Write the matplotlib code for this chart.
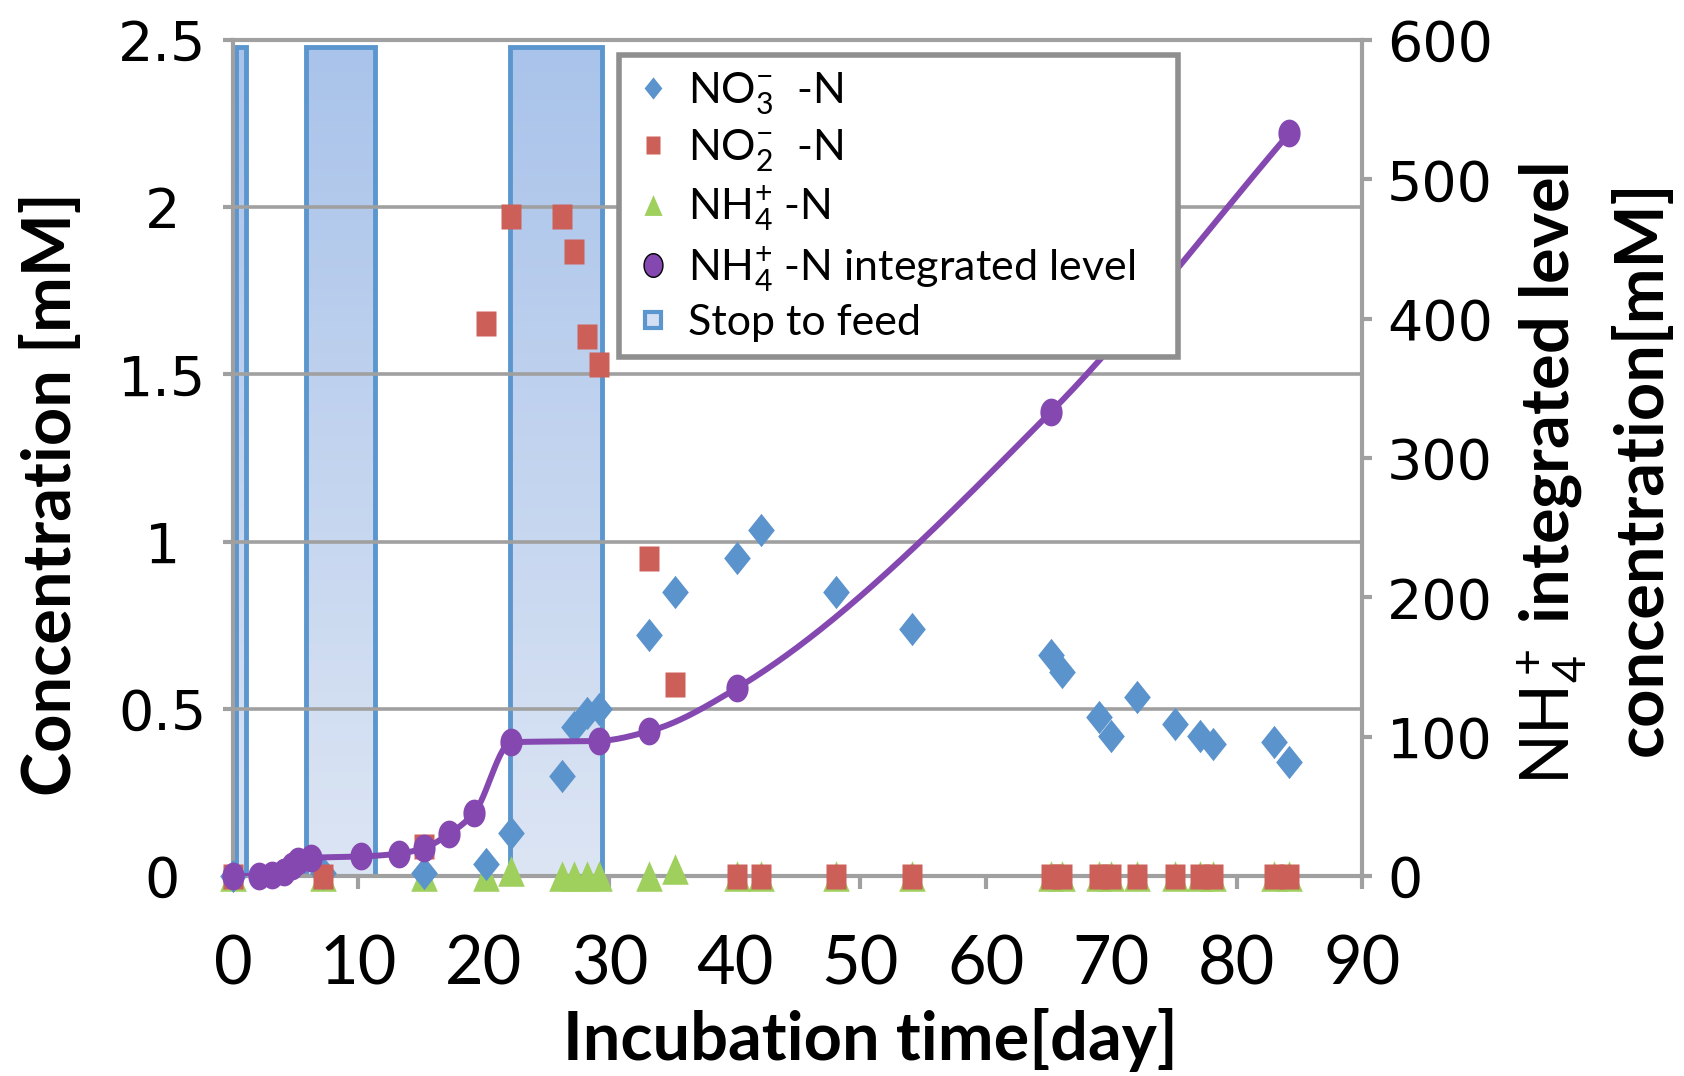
import numpy as np
import matplotlib
matplotlib.use("Agg")
import matplotlib.pyplot as plt
from matplotlib.lines import Line2D
from matplotlib.patches import Rectangle
from matplotlib.colors import LinearSegmentedColormap

plt.rcParams['mathtext.fontset'] = 'custom'
plt.rcParams['mathtext.rm'] = 'Lato'
plt.rcParams['mathtext.it'] = 'Lato:italic'
plt.rcParams['mathtext.bf'] = 'Lato:bold'

# sampling days for the three N species
days = [0, 7.2, 15.2, 20.2, 22.2, 26.2, 27.2, 28.2, 29.2, 33.2, 35.2, 40.2, 42.1,
        48.1, 54.1, 65.2, 66.1, 69.0, 70.0, 72.1, 75.1, 77.1, 78.1, 83.0, 84.2]
no3 = [0.0, 0.01, 0.01, 0.035, 0.13, 0.30, 0.445, 0.488, 0.50, 0.72, 0.85, 0.95, 1.035,
       0.85, 0.74, 0.66, 0.61, 0.475, 0.42, 0.535, 0.455, 0.42, 0.395, 0.40, 0.34]
no2 = [0.0, 0.0, 0.09, 1.655, 1.975, 1.975, 1.87, 1.615, 1.53, 0.95, 0.575, 0.0, 0.0,
       0.0, 0.0, 0.0, 0.0, 0.0, 0.0, 0.0, 0.0, 0.0, 0.0, 0.0, 0.0]
nh4 = [0.0, 0.0, 0.0, 0.0, 0.015, 0.0, 0.0, 0.0, 0.0, 0.0, 0.02, 0.0, 0.0,
       0.0, 0.0, 0.0, 0.0, 0.0, 0.0, 0.0, 0.0, 0.0, 0.0, 0.0, 0.0]

# NH4+ integrated level (right axis)
int_days = [0, 2.1, 3.1, 4.1, 4.7, 5.2, 6.2, 10.2, 13.2, 15.2, 17.2, 19.2, 22.2,
            29.2, 33.2, 40.2, 65.2, 84.2]
int_level = [0, 0, 1, 3, 7, 11, 13, 14, 16, 20, 30, 45, 96, 97, 104, 135, 333, 533]

# stop-to-feed periods (start day, end day)
stop_periods = [(0.2, 1.0), (5.8, 11.3), (22.1, 29.4)]
stop_top = 2.48

blue = '#5B93CC'
red = '#CD5F59'
green = '#9FD05E'
purple = '#8448B0'
gray = '#A0A0A0'


def pchip(x, y, xs):
    # monotone cubic (Fritsch-Carlson), close to Excel's smoothed line look
    x = np.asarray(x, float)
    y = np.asarray(y, float)
    h = np.diff(x)
    d = np.diff(y) / h
    m = np.zeros_like(y)
    m[0] = d[0]
    m[-1] = d[-1]
    for k in range(1, len(x) - 1):
        if d[k - 1] * d[k] <= 0:
            m[k] = 0
        else:
            w1 = 2 * h[k] + h[k - 1]
            w2 = h[k] + 2 * h[k - 1]
            m[k] = (w1 + w2) / (w1 / d[k - 1] + w2 / d[k])
    idx = np.clip(np.searchsorted(x, xs) - 1, 0, len(x) - 2)
    t = (xs - x[idx]) / h[idx]
    h00 = 2 * t**3 - 3 * t**2 + 1
    h10 = t**3 - 2 * t**2 + t
    h01 = -2 * t**3 + 3 * t**2
    h11 = t**3 - t**2
    return h00 * y[idx] + h10 * h[idx] * m[idx] + h01 * y[idx + 1] + h11 * h[idx] * m[idx + 1]


# marker shapes (the original is squeezed horizontally)
th = np.linspace(0, 2 * np.pi, 60)
m_diamond = [(0, 1), (0.8, 0), (0, -1), (-0.8, 0), (0, 1)]
m_square = [(-0.8, -1), (0.8, -1), (0.8, 1), (-0.8, 1), (-0.8, -1)]
m_tri = [(-0.87, -1), (0.87, -1), (0, 1), (-0.87, -1)]
m_ell = list(zip(0.8 * np.cos(th), np.sin(th)))

fig = plt.figure(figsize=(16.84, 10.76), dpi=100)
ax = fig.add_axes([233 / 1684, 1 - 876 / 1076, (1362 - 233) / 1684, (876 - 40) / 1076])
ax2 = ax.twinx()

# stop to feed bands
cmap = LinearSegmentedColormap.from_list('stop', ['#DCE5F4', '#A9C3EA'])
grad = np.linspace(0, 1, 256).reshape(-1, 1)
for a, b in stop_periods:
    ax.imshow(grad, extent=(a, b, 0, stop_top), origin='lower', aspect='auto',
              cmap=cmap, zorder=0.8, interpolation='bilinear')
    ax.add_patch(Rectangle((a, 0), b - a, stop_top, fill=False, ec='#5B96CE', lw=3.5, zorder=0.9))

ax.plot(days, nh4, ls='none', marker=m_tri, ms=22, color=green, mec='none', clip_on=False, zorder=3)
ax.plot(days, no3, ls='none', marker=m_diamond, ms=24, color=blue, mec='none', clip_on=False, zorder=4)
ax.plot(days, no2, ls='none', marker=m_square, ms=18, color=red, mec='none', clip_on=False, zorder=5)

xs = np.linspace(int_days[0], int_days[-1], 800)
ax2.plot(xs, pchip(int_days, int_level, xs), color=purple, lw=4.3, zorder=2, solid_capstyle='round')
ax2.plot(int_days, int_level, ls='none', marker=m_ell, ms=20, color=purple, mec='none', clip_on=False, zorder=3)

ax.set_xlim(0, 90)
ax.set_ylim(0, 2.5)
ax2.set_ylim(0, 600)
ax.set_xticks(np.arange(0, 91, 10))
ax.set_yticks([0, 0.5, 1, 1.5, 2, 2.5])
ax.set_yticklabels(['0', '0.5', '1', '1.5', '2', '2.5'])
ax2.set_yticks(np.arange(0, 601, 100))

ax.grid(axis='y', color=gray, lw=2.6)
ax.grid(axis='x', visible=False)

for sp in ['left', 'bottom', 'top']:
    ax.spines[sp].set_color(gray)
    ax.spines[sp].set_linewidth(3)
ax.spines['right'].set_visible(False)
for sp in ['left', 'bottom', 'top']:
    ax2.spines[sp].set_visible(False)
ax2.spines['right'].set_color(gray)
ax2.spines['right'].set_linewidth(3)

ax.tick_params(axis='y', direction='out', length=7, width=3, color=gray, pad=44,
               labelsize=40)
ax.tick_params(axis='x', direction='out', length=9, width=3, color=gray, pad=33)
ax2.tick_params(axis='y', direction='out', length=7, width=3, color=gray, pad=11,
                labelsize=40)
for lbl in ax.get_yticklabels():
    lbl.set_horizontalalignment('center')
    lbl.set_family('DejaVu Sans')
for lbl in ax2.get_yticklabels():
    lbl.set_family('DejaVu Sans')
for lbl in ax.get_xticklabels():
    lbl.set_family('Lato')
    lbl.set_fontsize(48)

lab_font = dict(family='Lato', fontweight='bold', fontsize=48)
fig.text(0.031, 0.541, 'Concentration [mM]', rotation=90, ha='center', va='center', **lab_font)
fig.text(0.5166, 0.0335, 'Incubation time[day]', ha='center', va='center', **lab_font)
fig.text(0.9216, 0.56, r'$\mathrm{NH_4^+}$ integrated level', rotation=90, ha='center', va='center', **lab_font)
fig.text(0.9757, 0.565, 'concentration[mM]', rotation=90, ha='center', va='center', **lab_font)

handles = [
    Line2D([], [], ls='none', marker=m_diamond, ms=16, color=blue, mec='none'),
    Line2D([], [], ls='none', marker=m_square, ms=13, color=red, mec='none'),
    Line2D([], [], ls='none', marker=m_tri, ms=15, color=green, mec='none'),
    Line2D([], [], ls='none', marker=m_ell, ms=17, color=purple, mec='black', mew=1),
    Line2D([], [], ls='none', marker='s', ms=12, mfc='#D3DFF2', mec='#5B96CE', mew=3),
]
labels = [r'NO$_3^{-}$  -N', r'NO$_2^{-}$  -N', r'NH$_4^{+}$ -N',
          r'NH$_4^{+}$ -N integrated level', 'Stop to feed']
leg = ax2.legend(handles, labels, loc='upper left', mode='expand',
                 bbox_to_anchor=(619 / 1684, 1 - 408 / 1076, (1178 - 619) / 1684, (408 - 55) / 1076),
                 bbox_transform=fig.transFigure, prop={'family': 'Lato', 'size': 31},
                 frameon=True, fancybox=False, framealpha=1, edgecolor='#8F8F8F',
                 borderpad=0.35, labelspacing=0.25, handlelength=0.9, handletextpad=0.35,
                 borderaxespad=0)
leg.get_frame().set_linewidth(4)
leg.set_zorder(10)

fig.savefig('out.png', dpi=100, facecolor='white')
